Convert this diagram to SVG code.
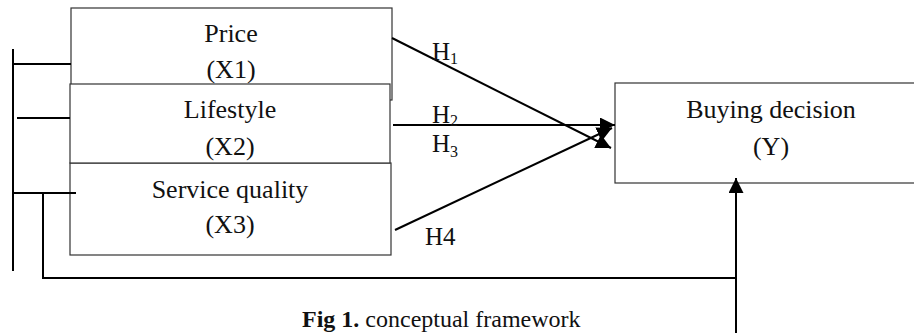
<svg xmlns="http://www.w3.org/2000/svg" width="914" height="333" viewBox="0 0 914 333">
<style>
  .box { fill: #fff; stroke: #333; stroke-width: 1.2; }
  .lbl { font-family: "Liberation Serif", "Times New Roman", serif; font-size: 26px; fill: #111; text-anchor: middle; }
  .h { font-family: "Liberation Serif", "Times New Roman", serif; font-size: 25px; fill: #111; }
  .sub { font-size: 16px; }
  .ln { fill: none; stroke: #000; stroke-width: 2; }
  .cap { font-family: "Liberation Serif", "Times New Roman", serif; font-size: 24px; fill: #111; }
</style>
<defs>
  <marker id="arr" markerUnits="userSpaceOnUse" markerWidth="16" markerHeight="16" refX="15" refY="7.5" orient="auto">
    <path d="M0,0 L15,7.5 L0,15 Z" fill="#000"/>
  </marker>
</defs>
<rect width="914" height="333" fill="#fff"/>

<g id="price">
  <rect class="box" x="71" y="8" width="321" height="92"/>
  <text class="lbl" x="231" y="42">Price</text>
  <text class="lbl" x="231" y="78">(X1)</text>
</g>
<g id="service">
  <rect class="box" x="70" y="163" width="321" height="92"/>
  <text class="lbl" x="230" y="198">Service quality</text>
  <text class="lbl" x="230" y="233">(X3)</text>
</g>
<g id="lifestyle">
  <rect class="box" x="70" y="84" width="320" height="79"/>
  <text class="lbl" x="230" y="118">Lifestyle</text>
  <text class="lbl" x="230" y="155">(X2)</text>
</g>
<g id="buying">
  <rect class="box" x="615" y="83" width="310" height="100"/>
  <text class="lbl" x="771" y="118">Buying decision</text>
  <text class="lbl" x="771" y="155">(Y)</text>
</g>

<g id="connectors">
  <line class="ln" x1="13" y1="49" x2="13" y2="271"/>
  <line class="ln" x1="13" y1="64" x2="71" y2="64"/>
  <line class="ln" x1="17" y1="118" x2="70" y2="118"/>
  <line class="ln" x1="13" y1="193" x2="76" y2="193"/>
  <polyline class="ln" points="43,193 43,278 736,278"/>
  <line class="ln" x1="736" y1="333" x2="736" y2="178" marker-end="url(#arr)"/>
  <line class="ln" x1="392" y1="38" x2="611" y2="148" marker-end="url(#arr)"/>
  <line class="ln" x1="393" y1="125" x2="615" y2="125" marker-end="url(#arr)"/>
  <line class="ln" x1="395" y1="230" x2="612" y2="128" marker-end="url(#arr)"/>
</g>

<g id="labels">
  <text class="h" x="432" y="60">H<tspan class="sub" dy="4">1</tspan></text>
  <text class="h" x="432" y="123">H<tspan class="sub" dy="3">2</tspan></text>
  <text class="h" x="432" y="152">H<tspan class="sub" dy="5">3</tspan></text>
  <text class="h" x="425" y="245">H4</text>
  <text class="cap" x="302" y="327"><tspan font-weight="bold">Fig 1.</tspan> conceptual framework</text>
</g>
</svg>
